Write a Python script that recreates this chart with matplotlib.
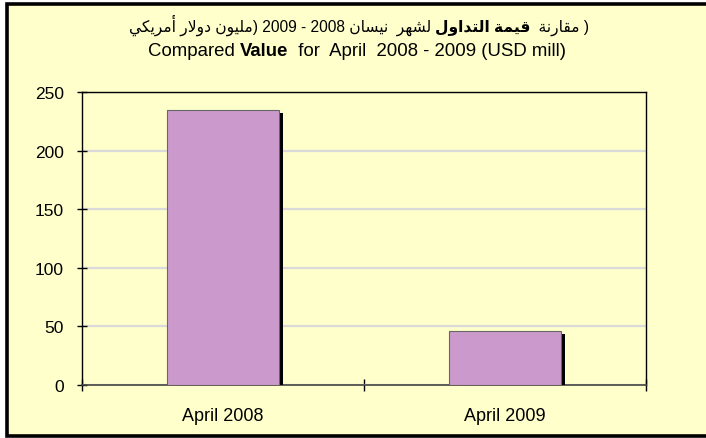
import matplotlib
matplotlib.use("Agg")
import matplotlib.pyplot as plt
import matplotlib.patheffects as pe
from matplotlib.patches import Rectangle

# ---------------- data ----------------
categories = ["April 2008", "April 2009"]
values = [234.5, 46.5]
yticks = [0, 50, 100, 150, 200, 250]

# Arabic title in logical order, split by weight
title_ar_pre = "( مقارنة  "
title_ar_bold = "قيمة التداول"
title_ar_post = " لشهر  نيسان 2008 - 2009 (مليون دولار أمريكي"
title_en_pre = "Compared "
title_en_bold = "Value"
title_en_post = "  for  April  2008 - 2009 (USD mill)"

# ---------------- simple Arabic shaping + RTL reordering ----------------
FORMS = {  # isolated, final, initial, medial
    "\u0627": ("\uFE8D", "\uFE8E", None, None),
    "\u0623": ("\uFE83", "\uFE84", None, None),
    "\u0629": ("\uFE93", "\uFE94", None, None),
    "\u062F": ("\uFEA9", "\uFEAA", None, None),
    "\u0631": ("\uFEAD", "\uFEAE", None, None),
    "\u0648": ("\uFEED", "\uFEEE", None, None),
    "\u062A": ("\uFE95", "\uFE96", "\uFE97", "\uFE98"),
    "\u0633": ("\uFEB1", "\uFEB2", "\uFEB3", "\uFEB4"),
    "\u0634": ("\uFEB5", "\uFEB6", "\uFEB7", "\uFEB8"),
    "\u0642": ("\uFED5", "\uFED6", "\uFED7", "\uFED8"),
    "\u0643": ("\uFED9", "\uFEDA", "\uFEDB", "\uFEDC"),
    "\u0644": ("\uFEDD", "\uFEDE", "\uFEDF", "\uFEE0"),
    "\u0645": ("\uFEE1", "\uFEE2", "\uFEE3", "\uFEE4"),
    "\u0646": ("\uFEE5", "\uFEE6", "\uFEE7", "\uFEE8"),
    "\u0647": ("\uFEE9", "\uFEEA", "\uFEEB", "\uFEEC"),
    "\u064A": ("\uFEF1", "\uFEF2", "\uFEF3", "\uFEF4"),
    "LA": ("\uFEFB", "\uFEFC", None, None),
}
MIRROR = {"(": ")", ")": "("}


def dual(c):
    return c in FORMS and FORMS[c][2] is not None


def shape_word(w):
    """Return presentation forms of an Arabic word, in logical order."""
    chars = []
    i = 0
    while i < len(w):
        if w[i] == "\u0644" and i + 1 < len(w) and w[i + 1] == "\u0627":
            chars.append("LA")
            i += 2
        else:
            chars.append(w[i])
            i += 1
    out = []
    for i, c in enumerate(chars):
        if c not in FORMS:
            out.append(c)
            continue
        prev = chars[i - 1] if i > 0 else None
        nxt = chars[i + 1] if i + 1 < len(chars) else None
        jp = prev is not None and dual(prev)
        jn = dual(c) and nxt is not None and nxt in FORMS
        iso, fin, ini, med = FORMS[c]
        if jp and jn:
            out.append(med)
        elif jp:
            out.append(fin)
        elif jn:
            out.append(ini)
        else:
            out.append(iso)
    return out


def visual_rtl(s):
    """Visual (left-to-right drawing) string of an RTL paragraph."""
    tokens = []
    i = 0
    while i < len(s):
        ch = s[i]
        if "\u0600" <= ch <= "\u06FF":
            j = i
            while j < len(s) and "\u0600" <= s[j] <= "\u06FF":
                j += 1
            tokens.extend(shape_word(s[i:j]))
            i = j
        elif ch.isdigit():
            j = i
            while j < len(s) and s[j].isdigit():
                j += 1
            tokens.append(s[i:j])
            i = j
        else:
            tokens.append(MIRROR.get(ch, ch))
            i += 1
    return "".join(reversed(tokens))


# ---------------- figure ----------------
W, H, DPI = 706, 439, 100
bg = "#FFFFCC"
fig = plt.figure(figsize=(W / DPI, H / DPI), dpi=DPI, facecolor="white")
fig.patches.append(Rectangle((6.5 / W, 2.5 / H), 1.2, (434.5 - 2.5) / H,
                             transform=fig.transFigure, facecolor=bg,
                             edgecolor="black", linewidth=2.6, zorder=-10))

ax = fig.add_axes([82 / W, (H - 386) / H, (646 - 82) / W, (386 - 93) / H])
ax.set_zorder(1)
ax.set_facecolor(bg)

x = list(range(len(categories)))
bars = ax.bar(x, values, width=0.4, color="#CC99CC", edgecolor="#666666",
              linewidth=0.8, zorder=3)
for b in bars:
    b.set_path_effects([pe.SimplePatchShadow(offset=(2.8, -2.4),
                                             shadow_rgbFace="black", alpha=1.0),
                        pe.Normal()])

ax.set_xlim(-0.5, len(categories) - 0.5)
ax.set_ylim(0, 250)
ax.set_yticks(yticks)
ax.yaxis.grid(True, color="#DADADA", linewidth=1.6, zorder=0)
ax.set_axisbelow(True)

ax.set_xticks([-0.5 + i for i in range(len(categories) + 1)])
ax.set_xticklabels([])
ax.set_xticks(x, minor=True)
ax.set_xticklabels(categories, minor=True)
ax.tick_params(axis="x", which="major", direction="inout", length=8.5, width=1, color="black")
ax.tick_params(axis="x", which="minor", length=0, pad=15.5, labelsize=13,
               labelfontfamily="Liberation Sans")
ax.tick_params(axis="y", direction="inout", length=7.2, width=1, color="black",
               pad=9.4, labelsize=12.5, labelfontfamily="Liberation Sans")
for s in ["left", "top", "right"]:
    ax.spines[s].set_color("black")
    ax.spines[s].set_linewidth(1.0)
ax.spines["bottom"].set_color("#444444")
ax.spines["bottom"].set_linewidth(1.2)

# ---------------- title (mixed weight pieces, drawn left to right) ----------------
fams = ["Liberation Sans", "DejaVu Sans"]


def mixed_line(pieces, baseline_px, left_px, right_px):
    fig.canvas.draw()
    r = fig.canvas.get_renderer()
    size = 12.0
    texts = []
    for s, bold in pieces:
        t = fig.text(0, 1 - baseline_px / H, s, fontsize=size, family=fams,
                     fontweight="bold" if bold else "normal",
                     va="baseline", ha="left", color="black")
        texts.append(t)
    total = sum(t.get_window_extent(r).width for t in texts)
    size = size * (right_px - left_px) / total
    for t in texts:
        t.set_fontsize(size)
    widths = [t.get_window_extent(r).width for t in texts]
    xs = (left_px + right_px) / 2 - sum(widths) / 2
    for t, w in zip(texts, widths):
        t.set_x(xs / W)
        xs += w


# RTL line: the last logical piece is drawn leftmost
mixed_line([(visual_rtl(title_ar_post), False),
            (visual_rtl(title_ar_bold), True),
            (visual_rtl(title_ar_pre), False)], 31.5, 128, 590)
mixed_line([(title_en_pre, False), (title_en_bold, True), (title_en_post, False)],
           55.5, 147, 567)

fig.savefig("out.png", dpi=DPI, facecolor=fig.get_facecolor())
